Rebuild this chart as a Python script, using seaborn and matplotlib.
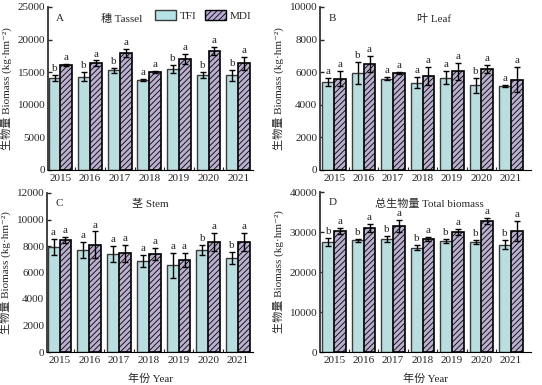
import numpy as np
import pandas as pd
import seaborn as sns
import matplotlib.pyplot as plt
from matplotlib.patches import Patch

years = ["2015", "2016", "2017", "2018", "2019", "2020", "2021"]

tassel_tfi = [14100, 14300, 15300, 13800, 15500, 14600, 14500]
tassel_tfi_err = [500, 700, 400, 200, 600, 500, 800]
tassel_mdi = [16100, 16400, 18000, 15000, 17000, 18200, 16400]
tassel_mdi_err = [200, 400, 600, 150, 800, 600, 1000]
tassel_tfi_sig = ["b", "b", "b", "a", "b", "b", "b"]

leaf_tfi = [5400, 5950, 5600, 5350, 5650, 5200, 5150]
leaf_tfi_err = [250, 650, 80, 350, 400, 450, 80]
leaf_mdi = [5600, 6500, 5980, 5780, 6050, 6200, 5550]
leaf_mdi_err = [450, 500, 60, 550, 500, 220, 750]
leaf_tfi_sig = ["a", "b", "a", "a", "a", "b", "a"]

stem_tfi = [7950, 7700, 7400, 6850, 6550, 7700, 7100]
stem_tfi_err = [600, 600, 600, 450, 950, 400, 450]
stem_mdi = [8450, 8100, 7450, 7400, 6950, 8300, 8300]
stem_mdi_err = [250, 1000, 650, 450, 550, 700, 700]
stem_tfi_sig = ["a", "a", "a", "a", "a", "b", "b"]

total_tfi = [27500, 27900, 28300, 26100, 27700, 27500, 26800]
total_tfi_err = [1000, 400, 800, 700, 500, 400, 1100]
total_mdi = [30200, 31000, 31500, 28200, 30000, 32700, 30200]
total_mdi_err = [800, 900, 1500, 500, 800, 700, 2500]
total_tfi_sig = ["b", "b", "b", "b", "b", "b", "b"]

mdi_sig = ["a"] * 7

sns.set_style("ticks")
plt.rcParams["font.family"] = ["Liberation Serif", "Noto Sans CJK SC", "DejaVu Serif"]
plt.rcParams["hatch.linewidth"] = 0.6

c_tfi = "#b4e2e6"
c_mdi = "#b9aad3"
fs = 8

fig = plt.figure(figsize=(5.42, 3.85), dpi=100)

panels = [
    # letter, title, tfi, tfi_err, mdi, mdi_err, tfi_sig, ymax, step, rect, title_x
    ("A", "穗 Tassel", tassel_tfi, tassel_tfi_err, tassel_mdi, tassel_mdi_err,
     tassel_tfi_sig, 25000, 5000, [48 / 542, 1 - 170 / 385, 205 / 542, 163 / 385], 0.36),
    ("B", "叶 Leaf", leaf_tfi, leaf_tfi_err, leaf_mdi, leaf_mdi_err,
     leaf_tfi_sig, 10000, 2000, [320 / 542, 1 - 170 / 385, 211 / 542, 163 / 385], 0.54),
    ("C", "茎 Stem", stem_tfi, stem_tfi_err, stem_mdi, stem_mdi_err,
     stem_tfi_sig, 12000, 2000, [47 / 542, 1 - 352 / 385, 206 / 542, 159 / 385], 0.5),
    ("D", "总生物量 Total biomass", total_tfi, total_tfi_err, total_mdi, total_mdi_err,
     total_tfi_sig, 40000, 10000, [320 / 542, 1 - 352 / 385, 211 / 542, 160 / 385], 0.52),
]

for i, (lab, title, tfi, tfi_e, mdi, mdi_e, tfi_sig, ymax, step, rect, tx) in enumerate(panels):
    ax = fig.add_axes(rect)
    df = pd.DataFrame({
        "year": years * 2,
        "value": tfi + mdi,
        "group": ["TFI"] * 7 + ["MDI"] * 7,
    })
    sns.barplot(data=df, x="year", y="value", hue="group", hue_order=["TFI", "MDI"],
                palette=[c_tfi, c_mdi], errorbar=None, width=0.8, legend=False, ax=ax)

    bars = ax.patches
    tfi_bars = bars[:7]
    mdi_bars = bars[7:14]
    for p in tfi_bars:
        p.set_edgecolor("#3a3a3a")
        p.set_linewidth(1.0)
    for p in mdi_bars:
        p.set_edgecolor("black")
        p.set_linewidth(1.2)
        p.set_hatch("//////")

    off = ymax * 0.012
    for bset, vals, errs, sig in [(tfi_bars, tfi, tfi_e, tfi_sig), (mdi_bars, mdi, mdi_e, mdi_sig)]:
        xs = [p.get_x() + p.get_width() / 2 for p in bset]
        ax.errorbar(xs, vals, yerr=errs, fmt="none", ecolor="black",
                    elinewidth=1.0, capsize=2, capthick=1.0)
        for x, v, e, s in zip(xs, vals, errs, sig):
            ax.text(x, v + e + off, s, ha="center", va="bottom", fontsize=fs)

    n = len(years)
    if lab in ("A", "C"):
        ax.set_xlim(-0.42, n - 0.5)
    else:
        ax.set_xlim(-0.48, n - 0.32)
    ax.set_ylim(0, ymax)
    ax.set_yticks(np.arange(0, ymax + 1, step))
    ax.set_xticks(range(n))
    ax.set_xticklabels(years)
    ax.set_xticks(np.arange(0.5, n - 0.5, 1), minor=True)
    ax.tick_params(axis="y", direction="in", length=3, width=1, labelsize=fs, pad=2)
    ax.tick_params(axis="x", which="major", length=0, labelsize=fs, pad=3)
    ax.tick_params(axis="x", which="minor", direction="in", length=2, width=0.8)
    sns.despine(ax=ax)
    ax.spines["left"].set_linewidth(1.3)
    ax.spines["left"].set_color("#333333")
    ax.spines["bottom"].set_linewidth(0.8)
    ax.spines["bottom"].set_color("black")

    ax.set_ylabel("生物量 Biomass (kg·hm⁻²)", fontsize=fs, labelpad=4)
    if i >= 2:
        ax.set_xlabel("年份 Year", fontsize=fs, labelpad=6)
    else:
        ax.set_xlabel("")

    ax.text(0.04, 0.96, lab, transform=ax.transAxes, ha="left", va="top", fontsize=fs)
    ax.text(tx, 0.96, title, transform=ax.transAxes, ha="center", va="top", fontsize=fs)

    if lab == "A":
        handles = [
            Patch(facecolor=c_tfi, edgecolor="#3a3a3a", linewidth=1.0, label="TFI"),
            Patch(facecolor=c_mdi, edgecolor="black", linewidth=1.0, hatch="//////", label="MDI"),
        ]
        ax.legend(handles=handles, loc="upper left", bbox_to_anchor=(0.49, 1.02), ncol=2,
                  frameon=False, fontsize=fs, handlelength=1.9, handleheight=0.9,
                  handletextpad=0.3, columnspacing=0.8, borderaxespad=0.2)

fig.savefig("out.png", dpi=100)
